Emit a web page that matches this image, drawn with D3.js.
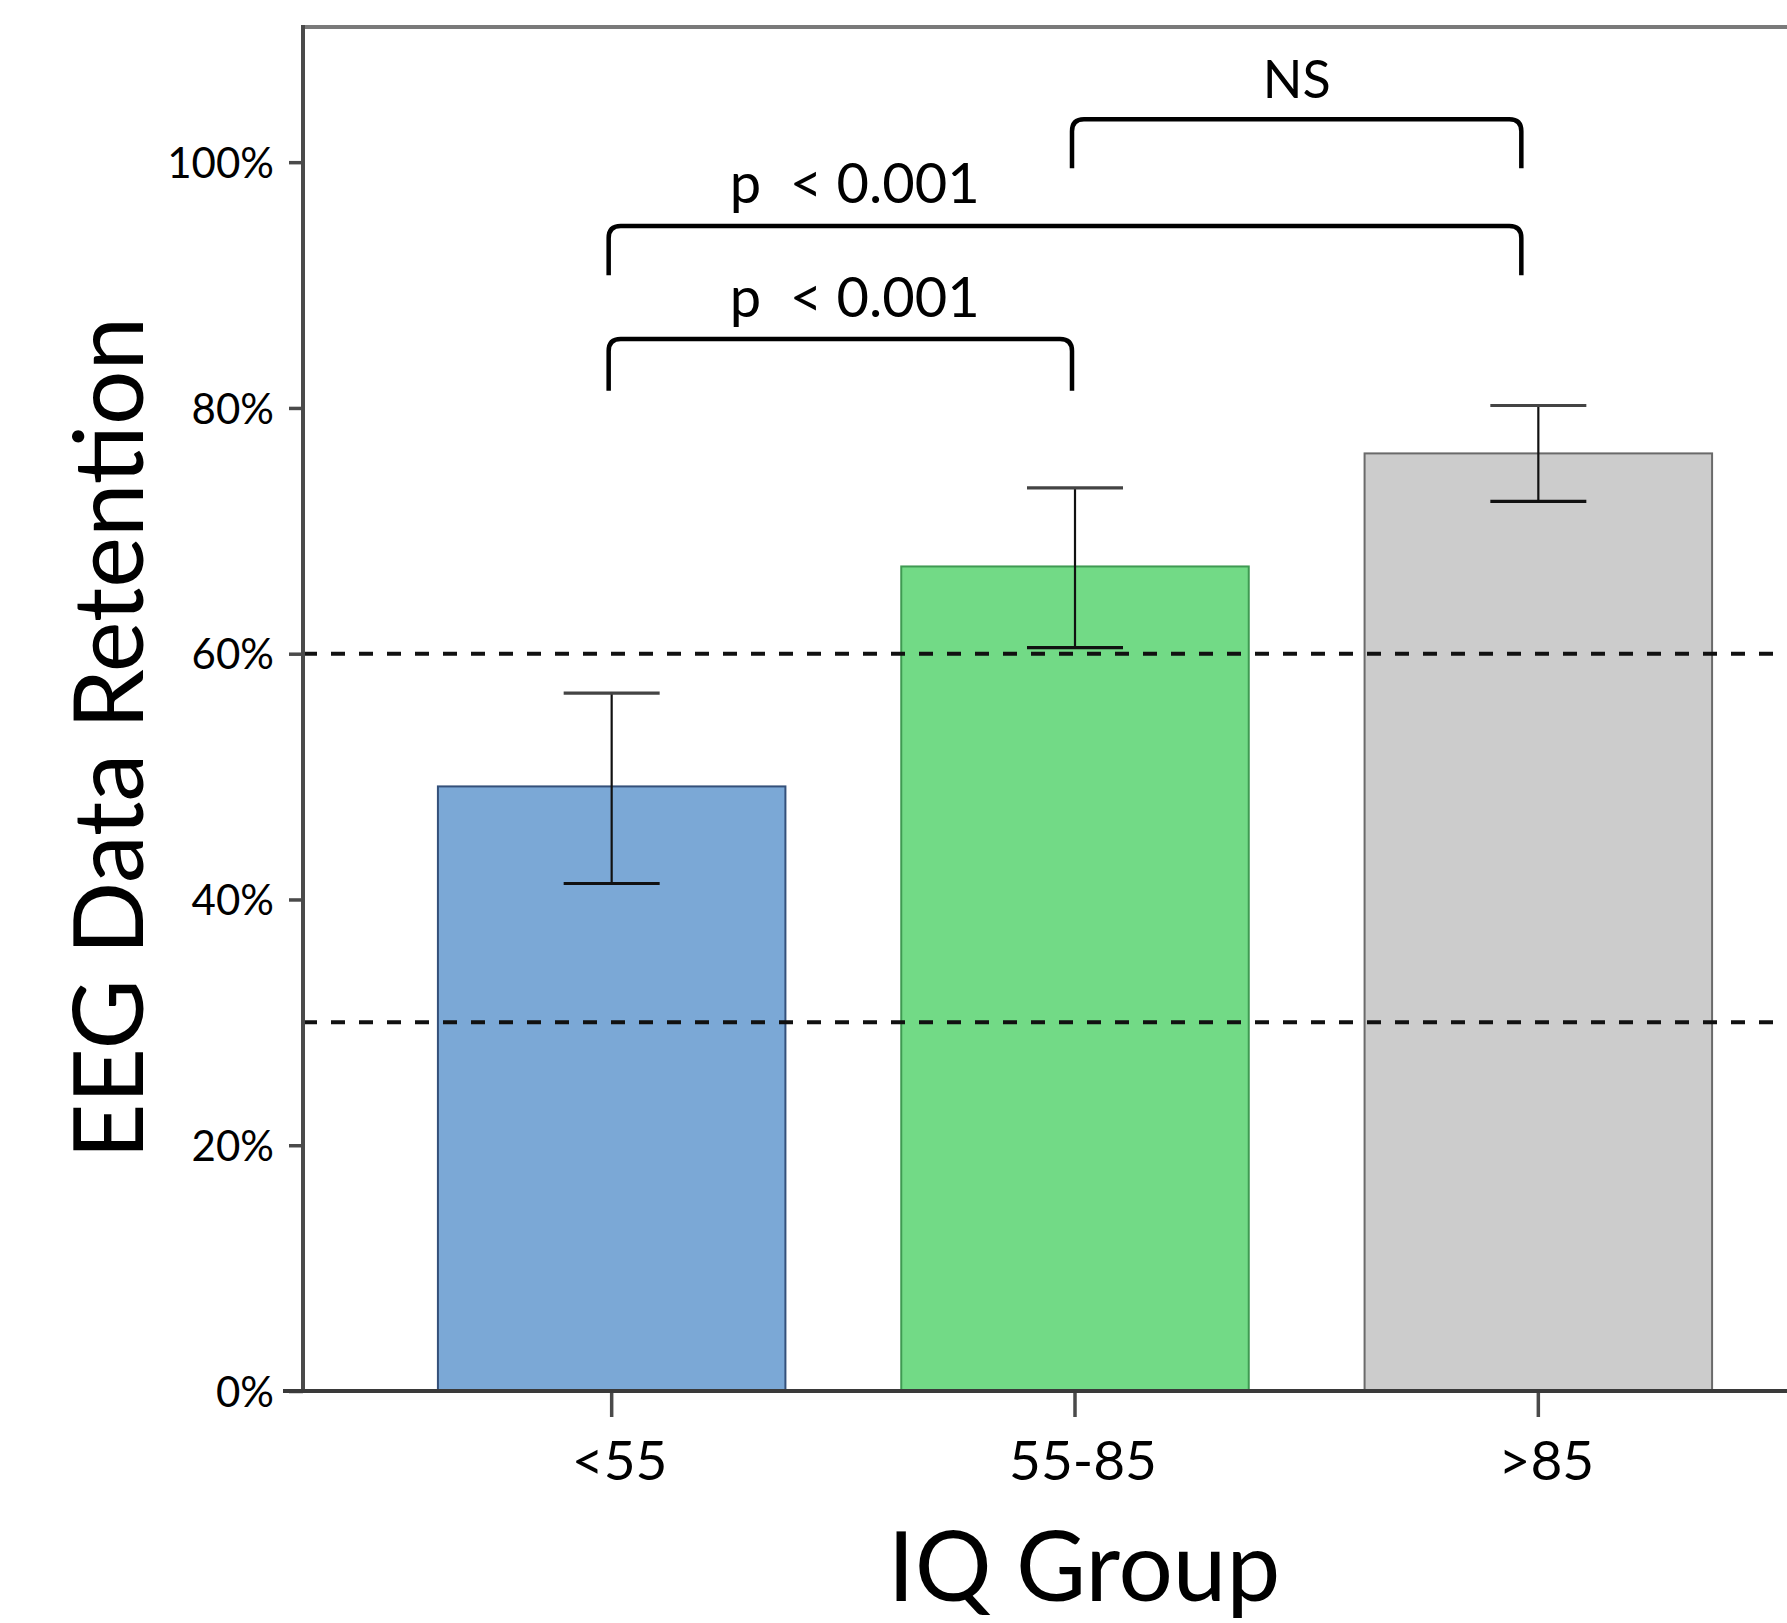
<!DOCTYPE html>
<html>
<head>
<meta charset="utf-8">
<script src="https://cdn.jsdelivr.net/npm/d3@7"></script>
<style>
  body { margin: 0; background: #fff; }
  svg { display: block; font-family: Lato, "Noto Sans", sans-serif; }
</style>
</head>
<body>
<svg id="chart" width="1787" height="1623"></svg>
<script>
// data (percent)
var groups = ["<55", "55-85", ">85"];
var means = [49.2, 67.1, 76.3];
var errLow = [41.3, 60.5, 72.4];
var errHigh = [56.8, 73.5, 80.2];
var fills = ["#7ba8d6", "#72da86", "#cccccc"];
var strokes = ["#34507a", "#3f9a52", "#6a6a6a"];
var yTicks = [0, 20, 40, 60, 80, 100];
var refLines = [60, 30];

// significance brackets
var brFrom = ["<55", "<55", "55-85"];
var brTo = ["55-85", ">85", ">85"];
var brTop = [85.6, 94.8, 103.5];
var brBottom = [81.4, 90.8, 99.5];
var brLabel = ["p\u00a0 < 0.001", "p\u00a0 < 0.001", "NS"];
var brLabelY = [87.4, 96.7, 105.2];

var svg = d3.select("#chart"),
    W = +svg.attr("width"),
    plotLeft = 303, plotTop = 27, plotBottom = 1391;

var y = d3.scaleLinear().domain([0, 111]).range([plotBottom, plotTop]);
var x = d3.scaleBand().domain(groups).range([380, 1770])
  .paddingInner(0.25).paddingOuter(0.125);
var cx = function(g) { return x(g) + x.bandwidth() / 2; };
// bracket legs sit a little left of the bar centres (more so on the last bar)
var legX = function(g) { return cx(g) - (g === groups[2] ? 17 : 3); };

// bars
svg.append("g").selectAll("rect").data(groups).join("rect")
  .attr("x", function(d) { return x(d); })
  .attr("y", function(d, i) { return y(means[i]); })
  .attr("width", x.bandwidth())
  .attr("height", function(d, i) { return y(0) - y(means[i]); })
  .attr("fill", function(d, i) { return fills[i]; })
  .attr("stroke", function(d, i) { return strokes[i]; })
  .attr("stroke-width", 2);

// dashed reference lines sit over the bars
svg.append("g").selectAll("line").data(refLines).join("line")
  .attr("x1", plotLeft).attr("x2", W)
  .attr("y1", function(d) { return y(d); }).attr("y2", function(d) { return y(d); })
  .attr("stroke", "#111").attr("stroke-width", 4)
  .attr("stroke-dasharray", "14,14");

// error bars
var cap = 48;
var eb = svg.append("g").attr("stroke", "#111");
eb.selectAll(".stem").data(groups).join("line").attr("class", "stem")
  .attr("x1", cx).attr("x2", cx)
  .attr("y1", function(d, i) { return y(errLow[i]); })
  .attr("y2", function(d, i) { return y(errHigh[i]); })
  .attr("stroke-width", 2.2);
eb.selectAll(".capH").data(groups).join("line").attr("class", "capH")
  .attr("x1", function(d) { return cx(d) - cap; }).attr("x2", function(d) { return cx(d) + cap; })
  .attr("y1", function(d, i) { return y(errHigh[i]); })
  .attr("y2", function(d, i) { return y(errHigh[i]); })
  .attr("stroke", "#444").attr("stroke-width", 3.2);
eb.selectAll(".capL").data(groups).join("line").attr("class", "capL")
  .attr("x1", function(d) { return cx(d) - cap; }).attr("x2", function(d) { return cx(d) + cap; })
  .attr("y1", function(d, i) { return y(errLow[i]); })
  .attr("y2", function(d, i) { return y(errLow[i]); })
  .attr("stroke-width", 3.2);

// frame: top line
svg.append("line").attr("x1", plotLeft).attr("x2", W).attr("y1", plotTop).attr("y2", plotTop)
  .attr("stroke", "#7a7a7a").attr("stroke-width", 4);

// y axis
var yAxis = svg.append("g").attr("transform", "translate(" + plotLeft + ",0)")
  .call(d3.axisLeft(y).tickValues(yTicks).tickSize(14).tickPadding(15)
    .tickFormat(function(d) { return d + "%"; }));
yAxis.select(".domain").remove();
yAxis.append("line").attr("x1", 0).attr("x2", 0).attr("y1", plotTop - 2).attr("y2", plotBottom)
  .attr("stroke", "#4a4a4a").attr("stroke-width", 4);
yAxis.selectAll(".tick line").attr("stroke", "#4a4a4a").attr("stroke-width", 3.5);
yAxis.selectAll(".tick text").attr("font-size", 42).attr("fill", "#000")
  .attr("font-family", "Lato, 'Noto Sans', sans-serif").attr("dy", "0.36em");

// x axis
var xAxis = svg.append("g").attr("transform", "translate(0," + plotBottom + ")")
  .call(d3.axisBottom(x).tickSize(26).tickPadding(24));
xAxis.select(".domain").remove();
xAxis.append("line").attr("x1", 283).attr("x2", W).attr("y1", 0).attr("y2", 0)
  .attr("stroke", "#3a3a3a").attr("stroke-width", 4);
xAxis.selectAll(".tick line").attr("stroke", "#4a4a4a").attr("stroke-width", 3.5);
xAxis.selectAll(".tick text").attr("font-size", 55).attr("fill", "#000")
  .attr("font-family", "Lato, 'Noto Sans', sans-serif").attr("dx", 8);

// axis titles
svg.append("text")
  .attr("transform", "translate(143,738) rotate(-90)")
  .attr("text-anchor", "middle").attr("font-size", 96).attr("fill", "#000")
  .text("EEG Data Retention");
svg.append("text")
  .attr("x", 1084).attr("y", 1601)
  .attr("text-anchor", "middle").attr("font-size", 96).attr("fill", "#000")
  .text("IQ Group");

// significance brackets
var r = 12;
var br = svg.append("g");
brFrom.forEach(function(g, i) {
  var x1 = legX(g), x2 = legX(brTo[i]);
  var yt = y(brTop[i]), yb = y(brBottom[i]);
  var p = d3.path();
  p.moveTo(x1, yb);
  p.lineTo(x1, yt + r);
  p.quadraticCurveTo(x1, yt, x1 + r, yt);
  p.lineTo(x2 - r, yt);
  p.quadraticCurveTo(x2, yt, x2, yt + r);
  p.lineTo(x2, yb);
  br.append("path").attr("d", p.toString())
    .attr("fill", "none").attr("stroke", "#000").attr("stroke-width", 4.5);
});
br.selectAll("text").data(brLabel).join("text")
  .attr("x", function(d, i) { return i < 2 ? cx(groups[0]) + 243 : (legX(brFrom[i]) + legX(brTo[i])) / 2; })
  .attr("y", function(d, i) { return y(brLabelY[i]); })
  .attr("text-anchor", "middle")
  .attr("font-size", function(d, i) { return i < 2 ? 56 : 52; })
  .attr("fill", "#000")
  .text(function(d) { return d; });
</script>
</body>
</html>
